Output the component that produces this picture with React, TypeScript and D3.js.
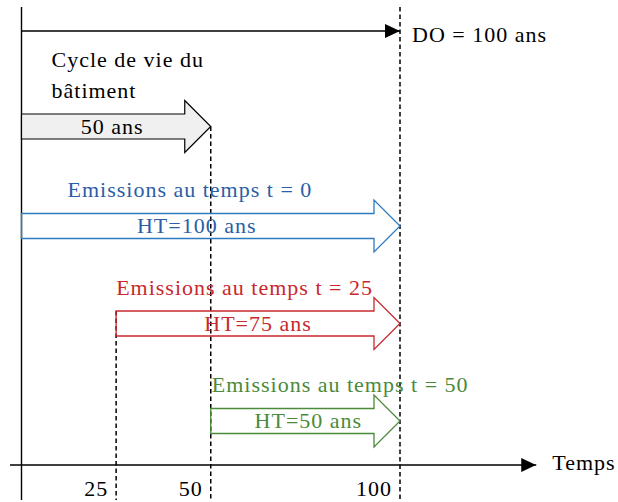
import React from "react";
import { scaleLinear, scalePoint } from "d3";

// Durées en années
const lifeCycle = 50;
const studyPeriod = 100; // DO
const axisTicks = [25, 50, 100];
const tickLabels = ["25", "50", "100"];
const emissionStarts = [0, 25, 50];
const emissionTitles = [
  "Emissions au temps t = 0",
  "Emissions au temps t = 25",
  "Emissions au temps t = 50",
];
const htLabels = ["HT=100 ans", "HT=75 ans", "HT=50 ans"];
const rows = ["do", "cycle", "t0", "t25", "t50"];

const strokeColors = ["#2c7bc1", "#c8282e", "#4a8a3a"];
const textColors = ["#2b5ea7", "#c8282e", "#4a8a3a"];
const titleDx = [46, 0, 1];
const htDx = [-14, 0, 3];

export default function App() {
  const width = 618;
  const height = 502;
  const axisY = 465;
  const font = "'Liberation Serif', 'DejaVu Serif', serif";
  const fs = 22;
  const ls = 1;

  // Échelle du temps (0 = origine, 100 = DO)
  const x = scaleLinear().domain([0, 100]).range([21.5, 400]);
  // Rangées des flèches
  const y = scalePoint<string>().domain(rows).range([31, 421]);

  const bodyH = 12.5;
  const headH = 26;
  const headL = 26;

  // Flèche large : corps + pointe
  const bigArrow = (t0: number, t1: number, yc: number) => {
    const x0 = x(t0);
    const x1 = x(t1);
    return `M${x0},${yc - bodyH} H${x1 - headL} V${yc - headH} L${x1},${yc} L${x1 - headL},${yc + headH} V${yc + bodyH} H${x0} Z`;
  };

  const textStyle = { fontFamily: font, fontSize: fs, letterSpacing: ls };
  const yCycle = y("cycle")! - 2;
  const dash = { stroke: "#000", strokeWidth: 1.5, strokeDasharray: "4.5 3" };

  return (
    <svg
      width={width}
      height={height}
      style={{ position: "absolute", left: 0, top: 0, background: "#fff" }}
    >
      <defs>
        <marker
          id="tip"
          markerUnits="userSpaceOnUse"
          markerWidth={15}
          markerHeight={14}
          refX={15}
          refY={7}
          orient="auto"
        >
          <path d="M0,0 L15,7 L0,14 Z" fill="#000" />
        </marker>
      </defs>

      {/* Lignes pointillées */}
      <line x1={x(studyPeriod)} x2={x(studyPeriod)} y1={7} y2={500} {...dash} />
      <line x1={x(lifeCycle)} x2={x(lifeCycle)} y1={yCycle} y2={500} {...dash} />
      <line x1={x(25)} x2={x(25)} y1={y("t25")! - bodyH} y2={500} {...dash} />

      {/* Axes */}
      <line x1={x(0)} x2={x(0)} y1={7} y2={500} stroke="#000" strokeWidth={1.4} />
      <line x1={10} x2={x(136)} y1={axisY} y2={axisY} stroke="#000" strokeWidth={1.4} markerEnd="url(#tip)" />
      <text x={x(136) + 16} y={axisY + 5} style={textStyle}>Temps</text>
      {axisTicks.map((t, i) => (
        <text key={t} x={x(t) - 8} y={496} textAnchor="end" style={textStyle}>
          {tickLabels[i]}
        </text>
      ))}

      {/* DO */}
      <line x1={x(0)} x2={x(studyPeriod)} y1={y("do")!} y2={y("do")!} stroke="#000" strokeWidth={1.4} markerEnd="url(#tip)" />
      <text x={x(studyPeriod) + 12} y={y("do")! + 11} style={textStyle}>DO = 100 ans</text>

      {/* Cycle de vie */}
      <text x={x(0) + 30} y={yCycle - 60} style={textStyle}>Cycle de vie du</text>
      <text x={x(0) + 30} y={yCycle - 29} style={textStyle}>bâtiment</text>
      <path d={bigArrow(0, lifeCycle, yCycle)} fill="#f0f0f0" stroke="#000" strokeWidth={1.2} />
      <text x={x(lifeCycle / 2) - 4} y={yCycle + 7} textAnchor="middle" style={textStyle}>50 ans</text>

      {/* Emissions */}
      {emissionStarts.map((s, i) => {
        const yc = y(rows[i + 2])!;
        return (
          <g key={s}>
            <text x={x(s) + titleDx[i]} y={yc - 29} fill={textColors[i]} style={textStyle}>
              {emissionTitles[i]}
            </text>
            <path d={bigArrow(s, studyPeriod, yc)} fill="none" stroke={strokeColors[i]} strokeWidth={1.3} />
            <text x={x((s + studyPeriod) / 2) + htDx[i]} y={yc + 7} textAnchor="middle" fill={textColors[i]} style={textStyle}>
              {htLabels[i]}
            </text>
          </g>
        );
      })}
    </svg>
  );
}
